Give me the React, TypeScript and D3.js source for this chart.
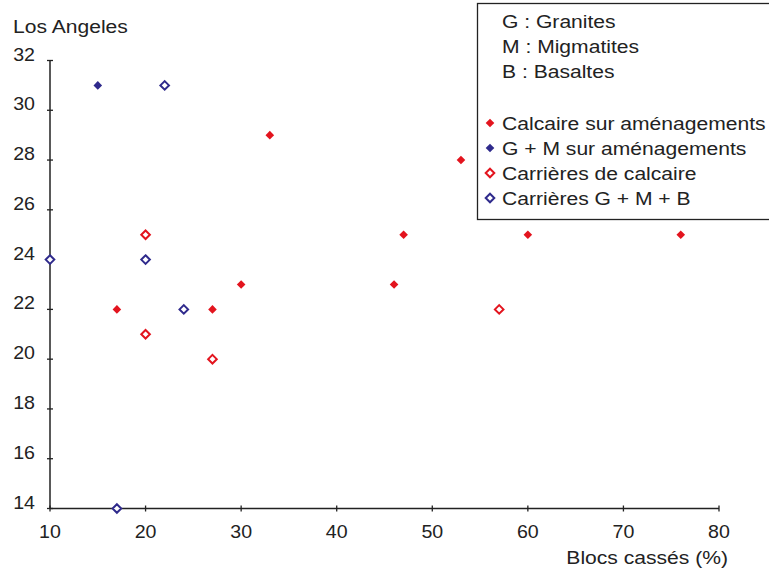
import React from "react";
import * as d3 from "d3";

const xTicks = [10, 20, 30, 40, 50, 60, 70, 80];
const yTicks = [14, 16, 18, 20, 22, 24, 26, 28, 30, 32];

const calcaireAmenX = [17, 27, 30, 33, 46, 47, 53, 60, 76];
const calcaireAmenY = [22, 22, 23, 29, 23, 25, 28, 25, 25];
const gmAmenX = [15];
const gmAmenY = [31];
const carrCalcX = [20, 20, 27, 57];
const carrCalcY = [25, 21, 20, 22];
const carrGmbX = [22, 10, 20, 24, 17];
const carrGmbY = [31, 24, 24, 22, 14];

const legendNotes = ["G : Granites", "M : Migmatites", "B : Basaltes"];
const seriesNames = [
  "Calcaire sur aménagements",
  "G + M sur aménagements",
  "Carrières de calcaire",
  "Carrières G + M + B",
];

const RED = "#e3141e";
const BLUE = "#2f2a8c";

const series = [
  { name: seriesNames[0], xs: calcaireAmenX, ys: calcaireAmenY, color: RED, filled: true },
  { name: seriesNames[1], xs: gmAmenX, ys: gmAmenY, color: BLUE, filled: true },
  { name: seriesNames[2], xs: carrCalcX, ys: carrCalcY, color: RED, filled: false },
  { name: seriesNames[3], xs: carrGmbX, ys: carrGmbY, color: BLUE, filled: false },
];

const FONT = "'Liberation Sans', Arial, Helvetica, sans-serif";
const FS = 18.5;

function Txt({
  x,
  y,
  anchor = "start",
  sx = 1.14,
  children,
}: {
  x: number;
  y: number;
  anchor?: string;
  sx?: number;
  children: React.ReactNode;
}) {
  return (
    <text
      transform={`translate(${x},${y}) scale(${sx},1)`}
      textAnchor={anchor}
      fontSize={FS}
      fill="#222"
    >
      {children}
    </text>
  );
}

function Diamond({ cx, cy, color, filled }: { cx: number; cy: number; color: string; filled: boolean }) {
  const r = 4.3;
  const d = `M${cx},${cy - r}L${cx + r},${cy}L${cx},${cy + r}L${cx - r},${cy}Z`;
  if (filled) return <path d={d} fill={color} />;
  return <path d={d} fill="white" stroke={color} strokeWidth={2} />;
}

export default function App() {
  const x = d3.scaleLinear().domain([10, 80]).range([50, 719]);
  const y = d3.scaleLinear().domain([14, 32]).range([508.5, 60.5]);
  const axisColor = "#222";
  return (
    <svg
      width={769}
      height={572}
      style={{ position: "absolute", left: 0, top: 0, background: "#fff" }}
      fontFamily={FONT}
    >
      <rect x={0} y={0} width={769} height={572} fill="#fff" />
      <line x1={x(10)} x2={x(80)} y1={y(14)} y2={y(14)} stroke={axisColor} strokeWidth={1.5} />
      <line x1={x(10)} x2={x(10)} y1={y(14)} y2={y(32)} stroke={axisColor} strokeWidth={1.5} />
      {xTicks.map((t) => (
        <g key={"xt" + t}>
          <line x1={x(t)} x2={x(t)} y1={y(14) - 3} y2={y(14) + 3} stroke={axisColor} strokeWidth={1.3} />
          <Txt x={x(t)} y={538} anchor="middle" sx={1.06}>
            {t}
          </Txt>
        </g>
      ))}
      {yTicks.map((t) => (
        <g key={"yt" + t}>
          <line x1={x(10) - 3} x2={x(10) + 3} y1={y(t)} y2={y(t)} stroke={axisColor} strokeWidth={1.3} />
          <Txt x={35} y={y(t)} anchor="end" sx={1.06}>
            {t}
          </Txt>
        </g>
      ))}
      <Txt x={13} y={33}>
        Los Angeles
      </Txt>
      <Txt x={728} y={564} anchor="end">
        Blocs cassés (%)
      </Txt>
      {series.map((s, si) =>
        s.xs.map((xv, i) => (
          <Diamond key={si + "-" + i} cx={x(xv)} cy={y(s.ys[i])} color={s.color} filled={s.filled} />
        ))
      )}
      <rect x={477.5} y={3.5} width={300} height={216} fill="#fff" stroke="#222" strokeWidth={1.3} />
      {legendNotes.map((n, i) => (
        <Txt key={n} x={502} y={28 + i * 25}>
          {n}
        </Txt>
      ))}
      {series.map((s, i) => (
        <g key={"lg" + i}>
          <Diamond cx={490} cy={123 + i * 25} color={s.color} filled={s.filled} />
          <Txt x={502} y={129.5 + i * 25}>
            {s.name}
          </Txt>
        </g>
      ))}
    </svg>
  );
}
